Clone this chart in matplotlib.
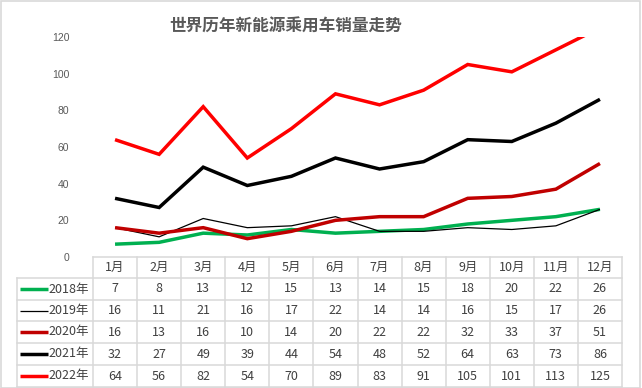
import matplotlib
matplotlib.use("Agg")
import matplotlib.pyplot as plt
from matplotlib.transforms import blended_transform_factory
from matplotlib.patches import Rectangle

plt.rcParams['font.family'] = ['Noto Sans CJK SC', 'DejaVu Sans']

title = "世界历年新能源乘用车销量走势"
months = ["1月", "2月", "3月", "4月", "5月", "6月", "7月", "8月", "9月", "10月", "11月", "12月"]
series_names = ["2018年", "2019年", "2020年", "2021年", "2022年"]
s2018 = [7, 8, 13, 12, 15, 13, 14, 15, 18, 20, 22, 26]
s2019 = [16, 11, 21, 16, 17, 22, 14, 14, 16, 15, 17, 26]
s2020 = [16, 13, 16, 10, 14, 20, 22, 22, 32, 33, 37, 51]
s2021 = [32, 27, 49, 39, 44, 54, 48, 52, 64, 63, 73, 86]
s2022 = [64, 56, 82, 54, 70, 89, 83, 91, 105, 101, 113, 125]
yticks = [0, 20, 40, 60, 80, 100, 120]

all_series = [s2018, s2019, s2020, s2021, s2022]
colors = ["#00B050", "#000000", "#C00000", "#000000", "#FF0000"]
widths = [2.5, 0.9, 2.5, 2.5, 2.5]

W, H = 642, 388
fig = plt.figure(figsize=(W / 100, H / 100), dpi=100)
ax_left, ax_right, ax_top, ax_bot = 93, 622, 37, 257
ax = fig.add_axes([ax_left / W, 1 - ax_bot / H, (ax_right - ax_left) / W, (ax_bot - ax_top) / H])

x = list(range(len(months)))
for s, c, lw in zip(all_series, colors, widths):
    ax.plot(x, s, color=c, lw=lw, solid_joinstyle='miter', solid_capstyle='butt')

ax.set_xlim(-0.5, len(months) - 0.5)
ax.set_ylim(0, 120)
ax.set_yticks(yticks)
ax.set_xticks([])
ax.tick_params(axis='y', length=0, pad=17, labelsize=7.5, labelcolor="#595959")
for lab in ax.get_yticklabels():
    lab.set_fontfamily(['Liberation Sans', 'DejaVu Sans'])
for sp in ax.spines.values():
    sp.set_visible(False)

fig.text(286 / W, 1 - 27 / H, title, ha='center', va='center', fontsize=12,
         fontweight='bold', color="#595959")

# Table below the axes
tr = blended_transform_factory(ax.transData, fig.transFigure)
def fy(px):
    return 1 - px / H

grid_c = "#D9D9D9"
row_edges = [257, 278, 300, 321, 343, 365, 387]
col_w_px = (ax_right - ax_left) / len(months)
leg_left = -0.5 - (ax_left - 17) / col_w_px
xmax = len(months) - 0.5

def hline(y, x0, x1):
    ax.plot([x0, x1], [fy(y), fy(y)], color=grid_c, lw=1.1, transform=tr, clip_on=False)

def vline(xv, y0, y1):
    ax.plot([xv, xv], [fy(y0), fy(y1)], color=grid_c, lw=1.1, transform=tr, clip_on=False)

hline(row_edges[0], -0.5, xmax)
for y in row_edges[1:]:
    hline(y, leg_left, xmax)
for i in range(len(months) + 1):
    vline(i - 0.5, row_edges[0], row_edges[-1])
vline(leg_left, row_edges[1], row_edges[-1])

txt_c = "#404040"
fs = 9
hc = (row_edges[0] + row_edges[1]) / 2
for i, m in enumerate(months):
    ax.text(i, fy(hc), m, transform=tr, ha='center', va='center', fontsize=fs, color=txt_c)

for r, (name, s, c, lw) in enumerate(zip(series_names, all_series, colors, widths)):
    yc = (row_edges[r + 1] + row_edges[r + 2]) / 2
    ax.plot([leg_left + 3 / col_w_px, leg_left + 31 / col_w_px], [fy(yc), fy(yc)],
            color=c, lw=lw, transform=tr, clip_on=False, solid_capstyle='butt')
    ax.text(leg_left + 31.5 / col_w_px, fy(yc), name, transform=tr, ha='left', va='center',
            fontsize=fs, color=txt_c)
    for i, v in enumerate(s):
        ax.text(i, fy(yc), str(v), transform=tr, ha='center', va='center', fontsize=fs, color=txt_c)

fig.patches.append(Rectangle((0.5 / W, 0.5 / H), (W - 3) / W, (H - 1.5) / H, transform=fig.transFigure,
                             fill=False, edgecolor=grid_c, lw=1.2))

fig.savefig("out.png", dpi=100)
